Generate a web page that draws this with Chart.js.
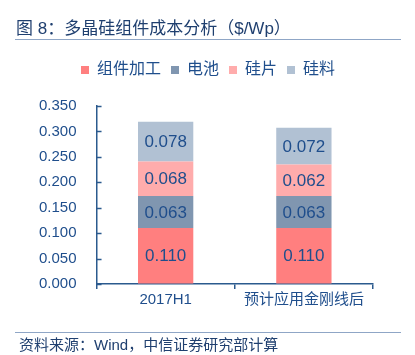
<!DOCTYPE html>
<html>
<head>
<meta charset="utf-8">
<script src="https://cdn.jsdelivr.net/npm/chart.js@4/dist/chart.umd.min.js"></script>
<style>
  html, body { margin: 0; padding: 0; background: #fff; }
  body { width: 415px; height: 355px; position: relative; overflow: hidden;
         font-family: "Liberation Sans", "Noto Sans CJK SC", sans-serif; }
  #title { position: absolute; left: 16px; top: 14px; font-size: 17px; color: #1F3F6F; white-space: nowrap; }
  #tline { position: absolute; left: 15px; top: 39px; width: 386px; height: 1px; background: #8FA6C6; }
  #sline { position: absolute; left: 15px; top: 332px; width: 386px; height: 1px; background: #8FA6C6; }
  #source { position: absolute; left: 19px; top: 333px; font-size: 15px; color: #1F3F6F; white-space: nowrap; }
  #wrap { position: absolute; left: 0; top: 0; width: 415px; height: 355px; }
</style>
</head>
<body>
<div id="wrap"><canvas id="c" width="415" height="355"></canvas></div>
<div id="title">图 8：多晶硅组件成本分析（$/Wp）</div>
<div id="tline"></div>
<div id="sline"></div>
<div id="source">资料来源：Wind，中信证券研究部计算</div>
<script>
const categories = ["2017H1", "预计应用金刚线后"];
const seriesNames = ["组件加工", "电池", "硅片", "硅料"];
const moduleProcessing = [0.110, 0.110];
const cell = [0.063, 0.063];
const wafer = [0.068, 0.062];
const polysilicon = [0.078, 0.072];
const yTicks = [0, 0.05, 0.10, 0.15, 0.20, 0.25, 0.30, 0.35];

const colors = ["#FF7F7F", "#8096B0", "#FFACAC", "#B1C1D3"];
const textColor = "#1F4E8C";
const axisColor = "#2B5A8E";
const fontFamily = '"Liberation Sans", "Noto Sans CJK SC", sans-serif';

const valueLabels = {
  id: "valueLabels",
  afterDatasetsDraw(chart) {
    const ctx = chart.ctx;
    ctx.save();
    ctx.font = "17px " + fontFamily;
    ctx.fillStyle = textColor;
    ctx.textAlign = "center";
    ctx.textBaseline = "middle";
    chart.data.datasets.forEach((ds, di) => {
      const meta = chart.getDatasetMeta(di);
      meta.data.forEach((el, i) => {
        const v = ds.data[i];
        ctx.fillText(v.toFixed(3), el.x, (el.y + el.base) / 2 + 1);
      });
    });
    ctx.restore();
  }
};

const innerTicks = {
  id: "innerTicks",
  afterDraw(chart) {
    const y = chart.scales.y;
    const ctx = chart.ctx;
    ctx.save();
    ctx.strokeStyle = axisColor;
    ctx.lineWidth = 1.5;
    y.ticks.forEach((t, i) => {
      const py = Math.round(y.getPixelForTick(i)) + 0.5;
      ctx.beginPath();
      ctx.moveTo(chart.chartArea.left, py);
      ctx.lineTo(chart.chartArea.left + 5, py);
      ctx.stroke();
    });
    ctx.restore();
  }
};

const legendGap = {
  id: "legendGap",
  beforeInit(chart) {
    const fit = chart.legend.fit;
    chart.legend.fit = function () {
      fit.call(this);
      this.height += 18;
    };
  },
  afterLayout(chart) {
    chart.legend.left += 12;
    chart.legend.right += 12;
  }
};

const seriesData = [moduleProcessing, cell, wafer, polysilicon];

new Chart(document.getElementById("c"), {
  type: "bar",
  data: {
    labels: categories,
    datasets: seriesNames.map((n, i) => ({
      label: n,
      data: seriesData[i],
      backgroundColor: colors[i],
      borderWidth: 0,
      categoryPercentage: 0.4,
      barPercentage: 1.0
    }))
  },
  options: {
    responsive: false,
    animation: false,
    devicePixelRatio: 1,
    layout: { padding: { top: 52, left: 19, right: 42, bottom: 44 } },
    plugins: {
      legend: {
        position: "top",
        labels: {
          boxWidth: 8, boxHeight: 8, padding: 10,
          color: textColor,
          font: { size: 16, family: fontFamily }
        }
      },
      tooltip: { enabled: false },
      title: { display: false }
    },
    scales: {
      x: {
        stacked: true,
        border: { color: axisColor, width: 1.5 },
        grid: { drawOnChartArea: false, drawTicks: true, tickLength: 5, color: axisColor, offset: true, lineWidth: 1.5 },
        ticks: { color: textColor, font: { size: 15, family: fontFamily }, padding: 2, maxRotation: 0 }
      },
      y: {
        stacked: true,
        min: 0, max: 0.35,
        afterBuildTicks(scale) { scale.ticks = yTicks.map(v => ({ value: v })); },
        border: { color: axisColor, width: 1.5 },
        grid: { drawOnChartArea: false, drawTicks: false, tickLength: 0 },
        ticks: {
          color: textColor, padding: 20,
          font: { size: 15, family: fontFamily },
          callback: v => Number(v).toFixed(3)
        }
      }
    }
  },
  plugins: [valueLabels, innerTicks, legendGap]
});
</script>
</body>
</html>
